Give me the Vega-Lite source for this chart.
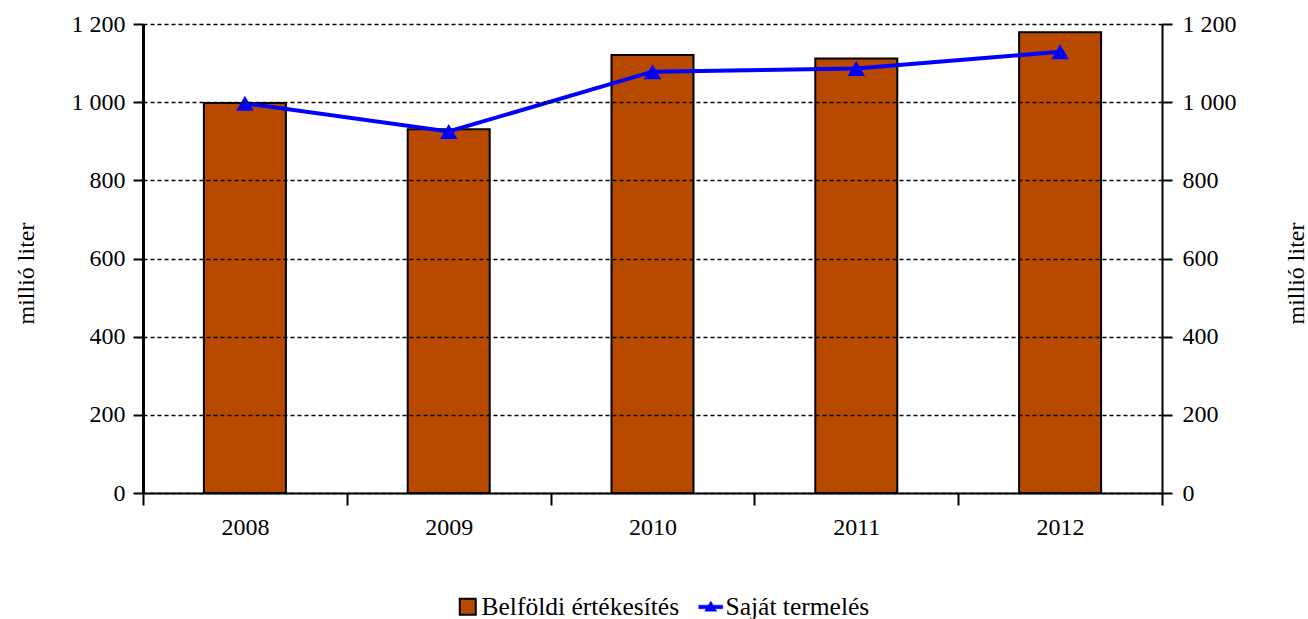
{
  "$schema": "https://vega.github.io/schema/vega-lite/v6.json",
  "width": 1019,
  "height": 469,
  "autosize": "none",
  "padding": {"left": 143, "top": 24, "right": 146, "bottom": 126},
  "background": "white",
  "config": {
    "font": "Liberation Serif",
    "view": {"stroke": null, "fill": null},
    "axis": {
      "labelFont": "Liberation Serif",
      "titleFont": "Liberation Serif",
      "labelFontSize": 24,
      "titleFontSize": 24,
      "titleFontWeight": "normal",
      "labelColor": "black",
      "titleColor": "black",
      "domainColor": "black",
      "tickColor": "black",
      "domainWidth": 2,
      "tickWidth": 2
    },
    "legend": {"labelFont": "Liberation Serif", "labelFontSize": 25.5, "labelColor": "black", "labelLimit": 0}
  },
  "data": {
    "values": [
      {"year": 2008, "sales": 998, "prod": 997},
      {"year": 2009, "sales": 931, "prod": 925},
      {"year": 2010, "sales": 1121, "prod": 1078},
      {"year": 2011, "sales": 1112, "prod": 1086},
      {"year": 2012, "sales": 1179, "prod": 1129}
    ]
  },
  "layer": [
    {
      "mark": {"type": "bar", "size": 82, "stroke": "black", "strokeWidth": 2},
      "encoding": {
        "x": {
          "field": "year", "type": "quantitative",
          "scale": {"domain": [2007.5, 2012.5], "nice": false, "zero": false, "padding": 0},
          "axis": {"title": null, "orient": "bottom", "values": [2008, 2009, 2010, 2011, 2012], "format": "d", "ticks": false, "domain": false, "grid": false, "labelPadding": 22}
        },
        "y": {
          "field": "sales", "type": "quantitative",
          "scale": {"domain": [0, 1200], "nice": false, "padding": 0},
          "axis": {
            "title": "millió liter", "orient": "left", "values": [0, 200, 400, 600, 800, 1000, 1200],
            "labelExpr": "replace(format(datum.value, ','), ',', ' ')",
            "tickSize": 10, "labelPadding": 8, "domain": true, "zindex": 2,
            "grid": true, "gridColor": "black", "gridDash": [4, 3], "gridWidth": 1.5,
            "titleX": -110, "titleY": 249, "titleAngle": 270, "titleBaseline": "alphabetic", "titleAlign": "center"
          }
        },
        "fill": {
          "datum": "Belföldi értékesítés",
          "scale": {"domain": ["Belföldi értékesítés"], "range": ["#B84A00"]},
          "legend": {
            "title": null, "orient": "none", "direction": "horizontal",
            "legendX": 312, "legendY": 570, "symbolSize": 256, "labelOffset": 1,
            "symbolType": "square", "symbolStrokeColor": "black", "symbolStrokeWidth": 2
          }
        }
      }
    },
    {
      "mark": {"type": "line", "strokeWidth": 4},
      "encoding": {
        "x": {
          "field": "year", "type": "quantitative",
          "scale": {"domain": [2007.5, 2012.5], "nice": false, "zero": false, "padding": 0},
          "axis": {"title": null, "orient": "bottom", "values": [2007.5, 2008.5, 2009.5, 2010.5, 2011.5, 2012.5], "labels": false, "tickSize": 12, "grid": false, "domain": true}
        },
        "y": {
          "field": "prod", "type": "quantitative",
          "scale": {"domain": [0, 1200], "nice": false, "padding": 0},
          "axis": {
            "title": "millió liter", "orient": "right", "values": [0, 200, 400, 600, 800, 1000, 1200],
            "labelExpr": "replace(format(datum.value, ','), ',', ' ')",
            "tickSize": 10, "labelPadding": 10, "grid": false, "domain": true,
            "titleX": 141, "titleY": 249, "titleAngle": 270, "titleBaseline": "alphabetic", "titleAlign": "center"
          }
        },
        "stroke": {
          "datum": "Saját termelés",
          "scale": {"domain": ["Saját termelés"], "range": ["#0000FF"]},
          "legend": {
            "title": null, "orient": "none", "direction": "horizontal",
            "legendX": 555, "legendY": 570, "symbolSize": 256, "labelOffset": 2,
            "symbolType": "M-1.5,-0.2L1.5,-0.2L1.5,0.25L-1.5,0.25Z M-0.75,0.55L0,-0.7L0.75,0.55Z",
            "symbolFillColor": "#0000FF", "symbolStrokeWidth": 0.5
          }
        }
      }
    },
    {
      "mark": {"type": "point", "shape": "triangle-up", "filled": true, "opacity": 1, "size": 300, "color": "#0000FF"},
      "encoding": {
        "x": {"field": "year", "type": "quantitative", "scale": {"domain": [2007.5, 2012.5], "nice": false, "zero": false, "padding": 0}, "axis": null},
        "y": {"field": "prod", "type": "quantitative", "scale": {"domain": [0, 1200], "nice": false, "padding": 0}, "axis": null}
      }
    },
    {
      "mark": {"type": "rule", "color": "black", "strokeWidth": 2, "clip": false},
      "encoding": {
        "x": {"datum": 2007.5025, "type": "quantitative", "scale": {"domain": [2007.5, 2012.5], "nice": false, "zero": false, "padding": 0}, "axis": null},
        "y": {"datum": 0, "type": "quantitative", "scale": {"domain": [0, 1200], "nice": false, "padding": 0}, "axis": null},
        "y2": {"datum": 1200}
      }
    }
  ],
  "resolve": {"scale": {"y": "independent"}, "axis": {"x": "independent"}}
}
